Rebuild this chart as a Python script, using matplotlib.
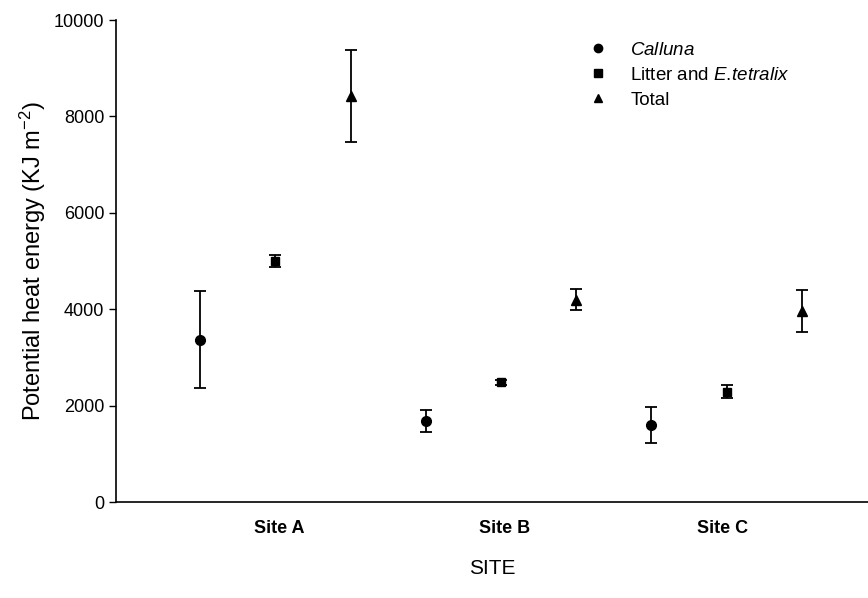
import matplotlib
matplotlib.use("Agg")
import matplotlib.pyplot as plt
from matplotlib.lines import Line2D

plt.rcParams['font.family'] = ['Liberation Sans', 'DejaVu Sans']
plt.rcParams['mathtext.fontset'] = 'custom'
plt.rcParams['mathtext.it'] = 'Liberation Sans:italic'
plt.rcParams['mathtext.rm'] = 'Liberation Sans'

sites = ["Site A", "Site B", "Site C"]
series = ["Calluna", "Litter and E.tetralix", "Total"]
calluna = [3370, 1680, 1600]
calluna_err = [1000, 220, 370]
litter = [5000, 2480, 2290]
litter_err = [130, 60, 130]
total = [8420, 4200, 3960]
total_err = [950, 220, 430]

values = [calluna, litter, total]
errors = [calluna_err, litter_err, total_err]
markers = ["o", "s", "^"]
msizes = [7, 6, 7.5]

fig = plt.figure(figsize=(8.68, 5.98), dpi=100)
ax = fig.add_axes([0.1336, 0.1605, 0.8664, 0.806])

for j in range(3):
    xs = [3 * i + j for i in range(len(sites))]
    ax.errorbar(xs, values[j], yerr=errors[j], fmt=markers[j], color="black",
                ms=msizes[j], ecolor="black", elinewidth=1.3, capsize=4, capthick=1.3)

ax.set_xlim(-1.12, 8.88)
ax.set_ylim(0, 10000)
ax.set_yticks([0, 2000, 4000, 6000, 8000, 10000])
ax.set_xticks([1.05, 4.05, 6.95])
ax.set_xticklabels(sites, fontweight="bold", fontsize=13)
ax.tick_params(axis="x", length=0, pad=13)
ax.tick_params(axis="y", labelsize=13, direction="out", length=5, width=1)
for s in ["top", "right"]:
    ax.spines[s].set_visible(False)
ax.spines["left"].set_linewidth(1.2)
ax.spines["bottom"].set_linewidth(1.2)

ax.set_ylabel("Potential heat energy (KJ m$^{-2}$)", fontsize=17, labelpad=4)
ax.set_xlabel("SITE", fontsize=15, labelpad=16)

handles = [Line2D([], [], marker=m, color="black", linestyle="none", markersize=6) for m in markers]
labels = ["$\\it{Calluna}$", "Litter and $\\it{E.\\!tetralix}$", "Total"]
ax.legend(handles, labels, loc="upper left", bbox_to_anchor=(0.614, 0.978), frameon=False,
          fontsize=13.5, handlelength=1.0, handletextpad=1.2, labelspacing=0.41,
          borderaxespad=0.2)

fig.savefig("out.png", dpi=100)
